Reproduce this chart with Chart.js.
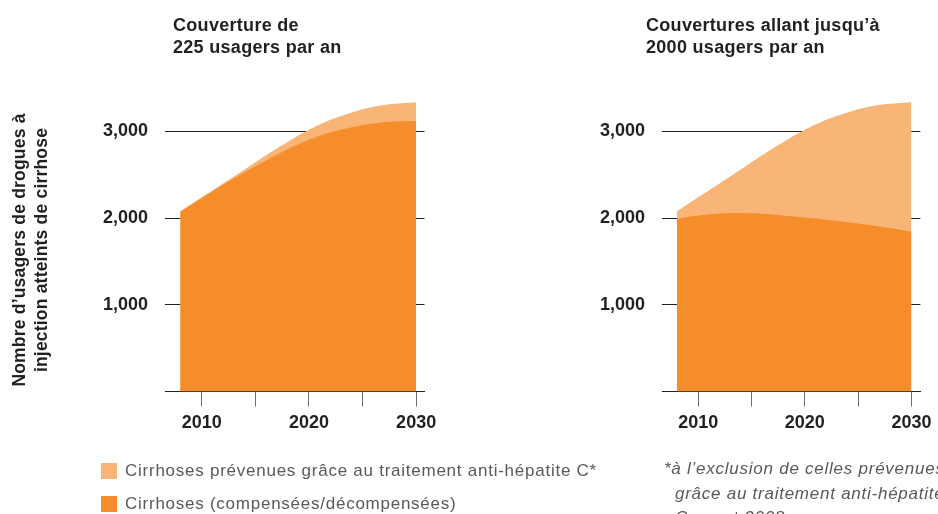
<!DOCTYPE html>
<html>
<head>
<meta charset="utf-8">
<script src="https://cdn.jsdelivr.net/npm/chart.js@4.4.0/dist/chart.umd.min.js"></script>
<style>
  html, body { margin:0; padding:0; background:#fff; width:938px; height:514px; overflow:hidden; position:relative; font-family:"Liberation Sans", Arial, sans-serif; }
  .panel { position:absolute; top:0; width:469px; height:514px; }
  .title { position:absolute; font-weight:bold; font-size:18px; line-height:22px; letter-spacing:0.3px; color:#231f20; white-space:nowrap; z-index:2; }
  .ytitle { position:absolute; width:320px; left:-130px; top:228px; height:44px; font-weight:bold; font-size:17.5px; line-height:22px; letter-spacing:0.2px; color:#231f20; text-align:center; transform:rotate(-90deg); white-space:nowrap; }
  .legend { position:absolute; left:101px; font-size:17px; line-height:20px; letter-spacing:0.75px; color:#58595b; white-space:nowrap; }
  .legend .sw { display:inline-block; width:16px; height:16px; position:absolute; left:0; top:2px; }
  .legend .lab { position:absolute; left:24px; top:0; }
  .note { position:absolute; left:664px; top:457px; font-size:17px; font-style:italic; line-height:24.5px; letter-spacing:0.75px; color:#58595b; white-space:nowrap; }
</style>
</head>
<body>
<div class="panel" style="left:0"><canvas id="c1" width="469" height="514"></canvas></div>
<div class="panel" style="left:469px"><canvas id="c2" width="469" height="514"></canvas></div>
<div class="title" id="t1" style="left:173px; top:13.5px"></div>
<div class="title" id="t2" style="left:646px; top:13.5px"></div>
<div class="ytitle" id="yt"></div>
<div class="legend" id="lg1" style="top:461px"><span class="sw"></span><span class="lab"></span></div>
<div class="legend" id="lg2" style="top:494px"><span class="sw"></span><span class="lab"></span></div>
<div class="note" id="note"></div>
<script>
// ---- data ----
const years = [2008, 2010, 2012, 2014, 2016, 2018, 2020, 2022, 2024, 2026, 2028, 2030];
// top of light area (cirrhoses incl. those prevented) — same in both panels
const totalWithPrevented = [2076, 2240, 2400, 2560, 2725, 2880, 3020, 3135, 3220, 3285, 3320, 3338];
// compensated/decompensated cirrhoses
const cirrhosesLeft  = [2076, 2230, 2385, 2530, 2665, 2795, 2905, 2990, 3050, 3092, 3115, 3122];
const cirrhosesRight = [1992, 2030, 2055, 2060, 2050, 2030, 2007, 1982, 1953, 1922, 1885, 1842];
const xTicks = [2010, 2015, 2020, 2025, 2030];
const xLabelled = [2010, 2020, 2030];
const yTicks = [1000, 2000, 3000];
const panelTitles = [["Couverture de", "225 usagers par an"], ["Couvertures allant jusqu\u2019\u00e0", "2000 usagers par an"]];
const yTitle = ["Nombre d\u2019usagers de drogues \u00e0", "injection atteints de cirrhose"];
const seriesNames = ["Cirrhoses pr\u00e9venues gr\u00e2ce au traitement anti-h\u00e9patite C*", "Cirrhoses (compens\u00e9es/d\u00e9compens\u00e9es)"];
const footnote = ["*\u00e0 l\u2019exclusion de celles pr\u00e9venues", "\u00a0\u00a0gr\u00e2ce au traitement anti-h\u00e9patite", "\u00a0\u00a0C avant 2008"];
const colors = { prevented: "#f9b577", cirrhoses: "#f58d2b", ink: "#231f20", tick: "#6d6e71" };

// ---- text ----
document.getElementById('t1').innerHTML = panelTitles[0].join('<br>');
document.getElementById('t2').innerHTML = panelTitles[1].join('<br>');
document.getElementById('yt').innerHTML = yTitle.join('<br>');
const lg1 = document.getElementById('lg1'), lg2 = document.getElementById('lg2');
lg1.querySelector('.sw').style.background = colors.prevented;
lg1.querySelector('.lab').textContent = seriesNames[0];
lg2.querySelector('.sw').style.background = colors.cirrhoses;
lg2.querySelector('.lab').textContent = seriesNames[1];
document.getElementById('note').innerHTML = footnote.join('<br>');

// ---- charts ----
function makeChart(id, darkValues, yAxisWidth, padRight, xMin, xMax) {
  const pts = (vals) => years.map((y, i) => ({ x: y, y: vals[i] }));
  return new Chart(document.getElementById(id), {
    type: 'line',
    data: {
      datasets: [
        { label: seriesNames[1], data: pts(darkValues), fill: 'origin', backgroundColor: colors.cirrhoses,
          borderWidth: 0, pointRadius: 0, cubicInterpolationMode: 'monotone' },
        { label: seriesNames[0], data: pts(totalWithPrevented), fill: 'origin', backgroundColor: colors.prevented,
          borderWidth: 0, pointRadius: 0, cubicInterpolationMode: 'monotone' }
      ]
    },
    options: {
      responsive: false,
      animation: false,
      events: [],
      layout: { padding: { left: 0, top: 44.8, right: padRight, bottom: 514 - 391.5 - 50 } },
      plugins: { legend: { display: false }, tooltip: { enabled: false }, title: { display: false } },
      scales: {
        x: {
          type: 'linear', min: xMin, max: xMax,
          afterBuildTicks: (s) => { s.ticks = xTicks.map(v => ({ value: v })); },
          afterFit: (s) => { s.height = 50; },
          grid: { drawOnChartArea: false, drawTicks: true, tickLength: 15, color: colors.tick, lineWidth: 1 },
          border: { display: true, color: colors.ink, width: 1 },
          ticks: {
            autoSkip: false, maxRotation: 0, padding: 6, color: colors.ink,
            font: { family: 'Liberation Sans', weight: 'bold', size: 18 },
            callback: (v) => xLabelled.includes(v) ? String(v) : ''
          }
        },
        y: {
          min: 0, max: 4000,
          afterBuildTicks: (s) => { s.ticks = yTicks.map(v => ({ value: v })); },
          afterFit: (s) => { s.width = yAxisWidth; },
          grid: { drawTicks: false, color: colors.ink, lineWidth: 1 },
          border: { display: false },
          ticks: {
            padding: 17, color: colors.ink,
            font: { family: 'Liberation Sans', weight: 'bold', size: 18 },
            callback: (v) => v.toLocaleString('en-US')
          }
        }
      }
    }
  });
}
makeChart('c1', cirrhosesLeft, 165, 469 - 424.5, 2006.58, 2030.78);
makeChart('c2', cirrhosesRight, 662 - 469, 938 - 922, 2006.61, 2030.84);
</script>
</body>
</html>
